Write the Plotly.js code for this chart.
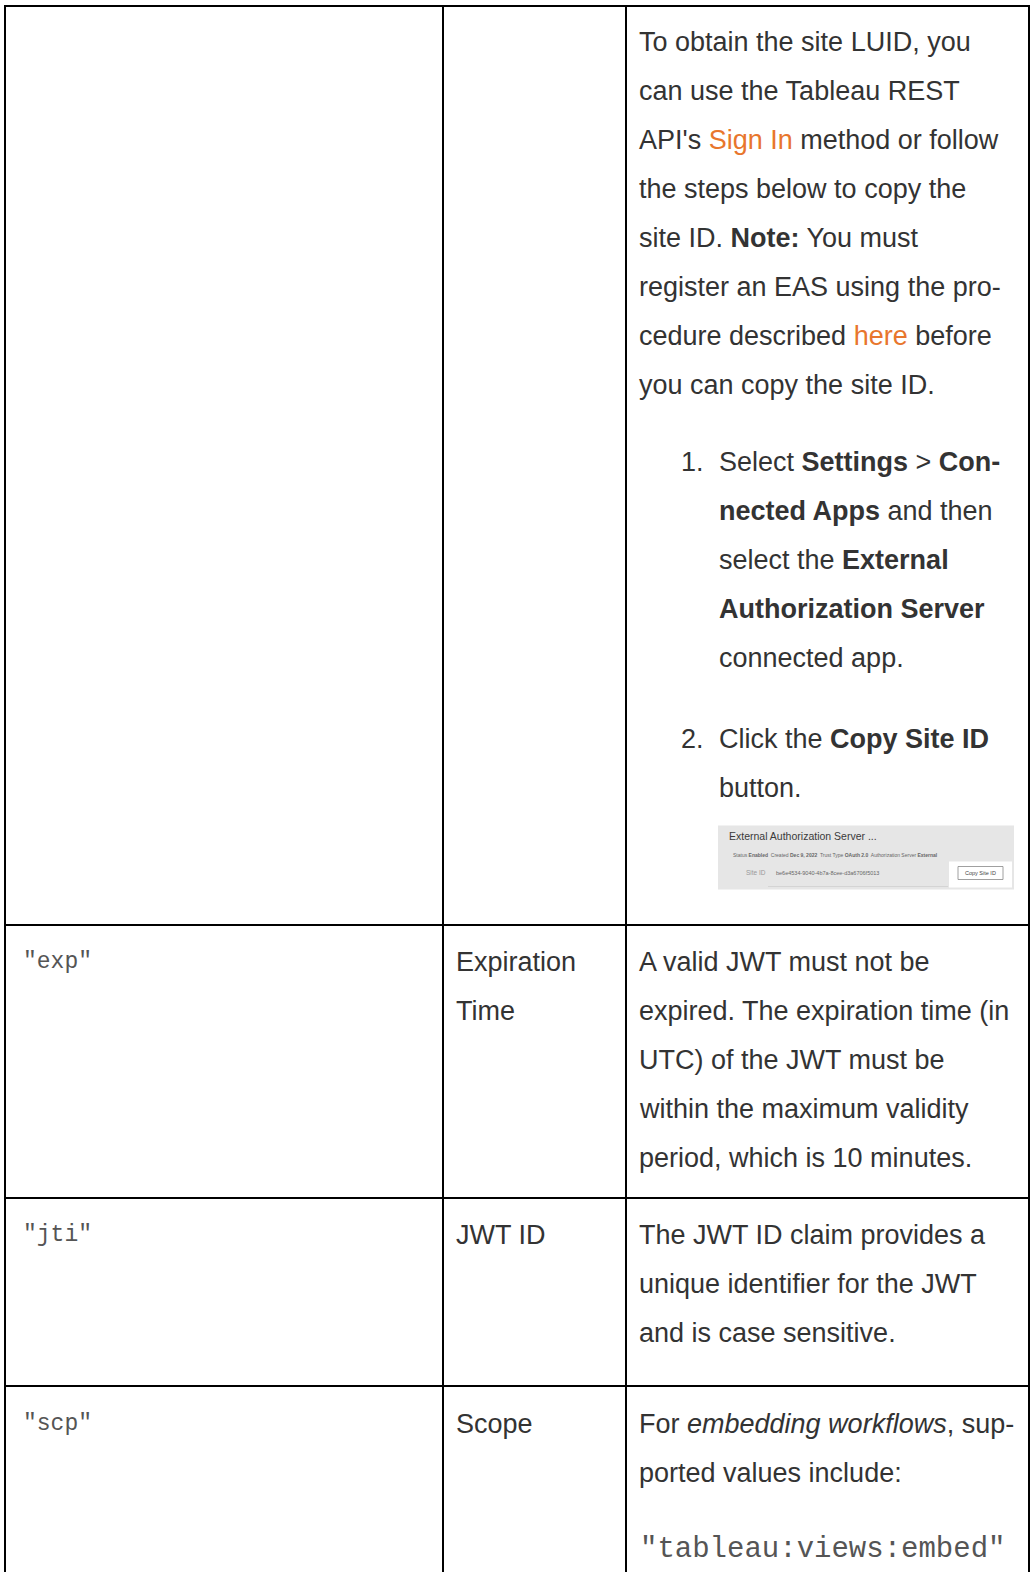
<!DOCTYPE html>
<html><head><meta charset="utf-8">
<script src="https://cdn.plot.ly/plotly-3.0.1.min.js"></script>
<style>html,body{margin:0;padding:0;background:#fff;}#chart{width:1032px;height:1572px;}</style>
</head><body><div id="chart"></div>
<script>
// ---------- DATA (cell texts) ----------
const claimKeys = ['', '"exp"', '"jti"', '"scp"'];
const claimNames = [[], ['Expiration', 'Time'], ['JWT ID'], ['Scope']];
const claimDescriptions = [
  ['To obtain the site LUID, you', 'can use the Tableau REST', "API's [Sign In] method or follow",
   'the steps below to copy the', 'site ID. **Note:** You must', 'register an EAS using the pro-',
   'cedure described [here] before', 'you can copy the site ID.'],
  ['A valid JWT must not be', 'expired. The expiration time (in', 'UTC) of the JWT must be',
   'within the maximum validity', 'period, which is 10 minutes.'],
  ['The JWT ID claim provides a', 'unique identifier for the JWT', 'and is case sensitive.'],
  ['For _embedding workflows_, sup-', 'ported values include:']
];
const stepNumbers = ['1.', '2.'];
const stepLines = [
  ['Select **Settings** > **Con-**', '**nected Apps** and then', 'select the **External**',
   '**Authorization Server**', 'connected app.'],
  ['Click the **Copy Site ID**', 'button.']
];
const scopeValues = ['"tableau:views:embed"'];
const shotTitle = 'External Authorization Server ...';
const shotStatus = 'Status **Enabled**  Created **Dec 9, 2022**  Trust Type **OAuth 2.0**  Authorization Server **External**';
const shotSiteLabel = 'Site ID';
const shotSiteId = 'be6e4534-9040-4b7a-8cee-d3a6706f5013';
const shotButton = 'Copy Site ID';

// ---------- LAYOUT / STYLE ----------
const W = 1032, H = 1572;
const colEdges = [5, 443, 626, 1029];
const rowTops = [6, 925, 1198, 1386];
const LINE = 49.0;
const firstOffset = [35.5, 37, 36.5, 37.5];
const padL = [17, 12, 12];
const SANS = 'Liberation Sans, Arial, sans-serif';
const MONO = 'Liberation Mono, Courier New, monospace';
const TXT = '#333333', LINK = '#e8762d', RULE = '#000000';

function markup(s) {
  return s.replace(/\*\*(.+?)\*\*/g, '<b>$1</b>')
          .replace(/_(.+?)_/g, '<i>$1</i>')
          .replace(/\[(.+?)\]/g, '<span style="color:' + LINK + '">$1</span>');
}

const annotations = [];
const shapes = [];
function addText(x, y, text, font, extra) {
  annotations.push(Object.assign({
    x: x, y: y, xref: 'x', yref: 'y', text: markup(text), showarrow: false,
    xanchor: 'left', yanchor: 'middle', borderpad: 0,
    font: Object.assign({family: SANS, size: 27, color: TXT}, font || {})
  }, extra || {}));
}
function addLine(x0, y0, x1, y1, color, width) {
  shapes.push({type: 'line', xref: 'x', yref: 'y', x0: x0, y0: y0, x1: x1, y1: y1,
               line: {color: color || RULE, width: width || 2}});
}
function addRect(x0, y0, x1, y1, fill, lineColor, lw) {
  shapes.push({type: 'rect', xref: 'x', yref: 'y', x0: x0, y0: y0, x1: x1, y1: y1,
               fillcolor: fill, line: {color: lineColor || 'rgba(0,0,0,0)', width: lw || 0}, layer: 'below'});
}

// grid
rowTops.forEach(function (y) { addLine(colEdges[0] - 1, y, colEdges[3] + 1, y); });
colEdges.forEach(function (x) { addLine(x, rowTops[0] - 1, x, H + 2); });

// cells
claimKeys.forEach(function (key, r) {
  const y0 = rowTops[r] + firstOffset[r];
  if (key) addText(colEdges[0] + padL[0], y0, key, {family: MONO, size: 23, color: '#555'});
  claimNames[r].forEach(function (t, i) { addText(colEdges[1] + padL[1], y0 + i * LINE, t); });
  claimDescriptions[r].forEach(function (t, i) { addText(colEdges[2] + padL[2], y0 + i * LINE, t); });
});

// numbered steps in first row
const stepGaps = [77, 81];
const numX = 680, stepX = 718;
let yCursor = rowTops[0] + firstOffset[0] + (claimDescriptions[0].length - 1) * LINE;
stepLines.forEach(function (lines, s) {
  yCursor += stepGaps[s];
  addText(numX, yCursor, stepNumbers[s]);
  lines.forEach(function (t, i) { addText(stepX, yCursor + i * LINE, t); });
  yCursor += (lines.length - 1) * LINE;
});

// screenshot thumbnail
const sx0 = 718, sy0 = yCursor + 38, sx1 = 1014, sy1 = sy0 + 64;
addRect(sx0, sy0, sx1, sy1, '#e6e6e6');
addText(sx0 + 10, sy0 + 10, shotTitle, {size: 10.5, color: '#3a3a3a'});
addText(sx0 + 14, sy0 + 29, shotStatus, {size: 5, color: '#666'});
addText(sx0 + 27, sy0 + 47, shotSiteLabel, {size: 6.5, color: '#999'});
addText(sx0 + 57, sy0 + 47, shotSiteId, {size: 5.5, color: '#666'});
addRect(sx0 + 231, sy0 + 36, sx1 - 2, sy1 - 2, '#ffffff');
addRect(sx0 + 240, sy0 + 41, sx0 + 285, sy0 + 54, '#ffffff', '#888', 0.8);
addText(sx0 + 262, sy0 + 47.5, shotButton, {size: 5.5, color: '#444'}, {xanchor: 'center'});
addLine(sx0 + 50, sy1 - 3, sx0 + 230, sy1 - 3, '#cfcfcf', 0.8);

// scope values
const scopeY = rowTops[3] + firstOffset[3] + (claimDescriptions[3].length - 1) * LINE + 77;
scopeValues.forEach(function (t, i) {
  addText(colEdges[2] + padL[2] + 1, scopeY + i * LINE, t, {family: MONO, size: 29, color: '#555'});
});

const layout = {
  width: W, height: H, margin: {l: 0, r: 0, t: 0, b: 0},
  paper_bgcolor: '#ffffff', plot_bgcolor: '#ffffff', showlegend: false,
  xaxis: {range: [0, W], visible: false, fixedrange: true},
  yaxis: {range: [H, 0], visible: false, fixedrange: true},
  annotations: annotations, shapes: shapes
};
Plotly.newPlot('chart', [{type: 'scatter', x: [], y: [], hoverinfo: 'skip'}], layout,
  {displayModeBar: false, staticPlot: true});
</script></body></html>
